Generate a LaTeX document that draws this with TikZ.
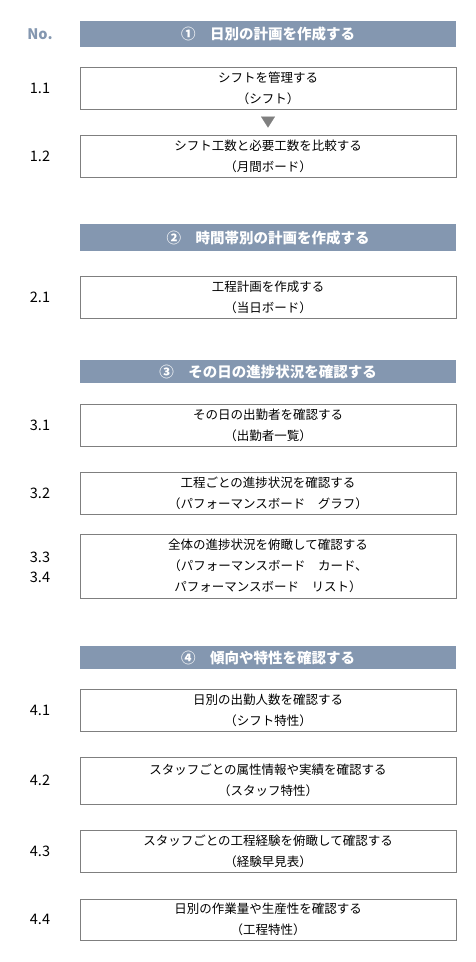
\documentclass[tikz,border=0pt]{standalone}
\usepackage{fontspec}
\setmainfont{Noto Sans CJK JP}
\usepackage{tikz}
\usetikzlibrary{arrows.meta}
\definecolor{headfill}{RGB}{132,151,176}
\definecolor{linegray}{RGB}{127,127,127}
\tikzset{
    box/.style={draw=linegray, line width=0.9pt, minimum width=376pt,
      minimum height=42pt, inner sep=0pt, align=center,
      font=\fontsize{12.5}{21}\selectfont},
    header/.style={fill=headfill, minimum width=376pt, minimum height=26pt,
      inner sep=0pt, text=white, font=\fontsize{14.5}{16}\selectfont\bfseries},
    num/.style={font=\fontsize{14.5}{20}\selectfont, align=center},
    flowtip/.style={draw=white, line width=0.1pt, shorten <=8pt,
      shorten >=7pt, -{Triangle[width=14pt, length=11pt, color=linegray,
      fill=linegray]}}
}

\begin{document}
\begin{tikzpicture}[x=1pt, y=-1pt]
    \useasboundingbox (0,0) rectangle (476,962);
    \node [num, text=headfill, font=\fontsize{14.5}{20}\selectfont\bfseries]
      (no) at (40,34) {No.};
    \node [header] (h1) at (268,34) {①　日別の計画を作成する};
    \node [box] (11) at (268,88) {シフトを管理する\\（シフト）};
    \node [box] (12) at (268,156) {シフト工数と必要工数を比較する\\（月間ボード）};
    \node [num] (n11) at (40,88) {1.1};
    \node [num] (n12) at (40,156) {1.2};
    \draw [flowtip] (11) -- (12);
    \node [header, minimum height=27pt] (h2) at (268,237.5)
      {②　時間帯別の計画を作成する};
    \node [box] (21) at (268,297) {工程計画を作成する\\（当日ボード）};
    \node [num] (n21) at (40,297) {2.1};
    \node [header, minimum height=23pt] (h3) at (268,371.5)
      {③　その日の進捗状況を確認する};
    \node [box] (31) at (268,425) {その日の出勤者を確認する\\（出勤者一覧）};
    \node [box] (32) at (268,493)
      {工程ごとの進捗状況を確認する\\（パフォーマンスボード　グラフ）};
    \node [box, minimum height=64pt] (33) at (268,566)
      {全体の進捗状況を俯瞰して確認する\\（パフォーマンスボード　カード、\\
      パフォーマンスボード　リスト）};
    \node [num] (n31) at (40,425) {3.1};
    \node [num] (n32) at (40,493) {3.2};
    \node [num] (n33) at (40,567) {3.3\\3.4};
    \node [header, minimum height=23pt] (h4) at (268,657.5)
      {④　傾向や特性を確認する};
    \node [box] (41) at (268,710) {日別の出勤人数を確認する\\（シフト特性）};
    \node [box, minimum height=47pt] (42) at (268,780.5)
      {スタッフごとの属性情報や実績を確認する\\（スタッフ特性）};
    \node [box] (43) at (268,851)
      {スタッフごとの工程経験を俯瞰して確認する\\（経験早見表）};
    \node [box, minimum height=41pt] (44) at (268,919.5)
      {日別の作業量や生産性を確認する\\（工程特性）};
    \node [num] (n41) at (40,710) {4.1};
    \node [num] (n42) at (40,780.5) {4.2};
    \node [num] (n43) at (40,851) {4.3};
    \node [num] (n44) at (40,919.5) {4.4};
  \end{tikzpicture}
\end{document}
